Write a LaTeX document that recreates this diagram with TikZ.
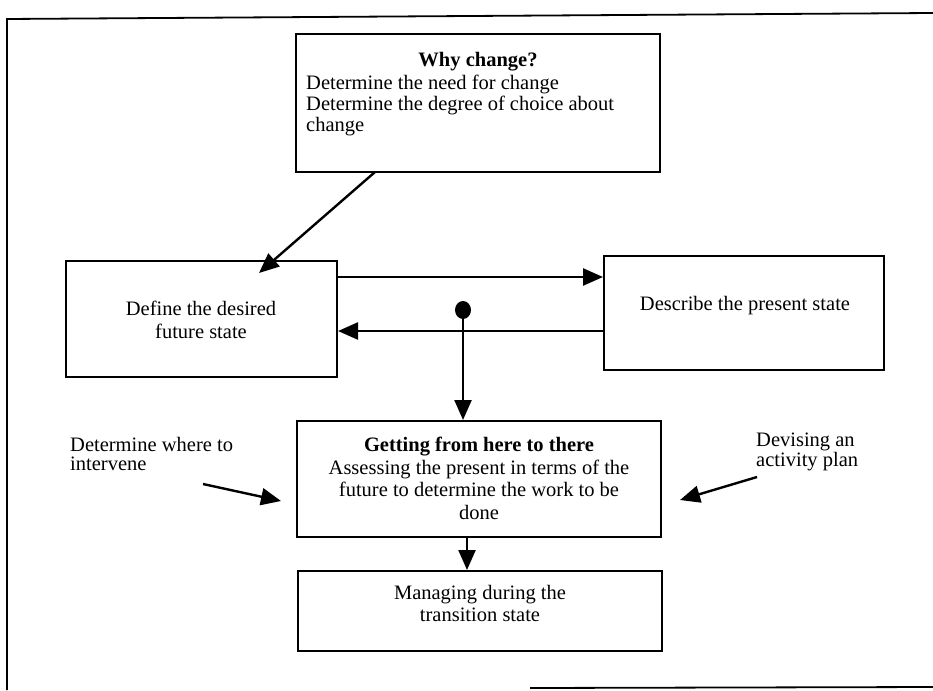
\documentclass[tikz,border=0pt]{standalone}
\usepackage{fontspec}
\setmainfont{Liberation Serif}
\usetikzlibrary{arrows.meta,shapes.geometric}
\begin{document}
\begin{tikzpicture}[x=1pt,y=-1pt,
  box/.style={draw,line width=2pt,inner sep=0pt},
  txt/.style={inner sep=0pt,align=center,font=\fontsize{20.5}{22.5}\selectfont},
  ltxt/.style={inner sep=0pt,align=left,font=\fontsize{20.5}{21}\selectfont},
  side/.style={inner sep=0pt,align=left,font=\fontsize{20.5}{19.5}\selectfont},
  arr/.style={line width=2.4pt,-{Triangle[length=20pt,width=17pt]}},
  frame/.style={line width=1.8pt}]
\useasboundingbox (0,0) rectangle (933,690);
% outer frame (partly visible)
\coordinate (fbl) at (7,690);
\coordinate (ftl) at (7,19);
\coordinate (ftr) at (933,13);
\coordinate (fb1) at (530,688);
\coordinate (fb2) at (933,687);
\draw[frame] (fbl) -- (ftl) -- (ftr);
\draw[frame] (fb1) -- (fb2);
% boxes
\node[box,minimum width=364pt,minimum height=138pt] (why) at (478,103) {};
\node[box,minimum width=271pt,minimum height=116pt] (def) at (201.5,319) {};
\node[box,minimum width=280pt,minimum height=114pt] (des) at (744,313) {};
\node[box,minimum width=364pt,minimum height=116pt] (get) at (479,479) {};
\node[box,minimum width=364pt,minimum height=80pt] (man) at (480,611) {};
% texts (north = first baseline - 14)
\node[inner sep=0pt,font=\fontsize{20.5}{23}\selectfont\bfseries,anchor=base] (whyt) at (478,67) {Why change?};
\node[ltxt,anchor=north west] (whyb) at (306,75) {Determine the need for change\\Determine the degree of choice about\\change};
\node[txt,anchor=north] (deft) at (201,301) {Define the desired\\future state};
\node[inner sep=0pt,font=\fontsize{20.5}{23}\selectfont,anchor=base] (dest) at (745,310) {Describe the present state};
\node[txt,anchor=north] (gett) at (479,437) {\textbf{Getting from here to there}\\Assessing the present in terms of the\\future to determine the work to be\\done};
\node[txt,anchor=north] (mant) at (480,585) {Managing during the\\transition state};
\node[side,anchor=north west] (intv) at (70,437) {Determine where to\\intervene};
\node[side,anchor=north west] (devs) at (756,433) {Devising an\\activity plan};
% dot
\node[ellipse,fill=black,minimum width=16pt,minimum height=18pt,inner sep=0pt] (dot) at (463,310) {};
% arrows
\coordinate (whys) at (375,172);
\coordinate (defe) at (259,273);
\draw[arr] (whys) -- (defe);
\draw[arr] (def.east |- 0,277) -- (des.west |- 0,277);
\draw[arr] (des.west |- 0,331) -- (def.east |- 0,331);
\draw[arr] (dot.center) -- (dot |- get.north);
\draw[arr] (get.south -| 467,0) -- (man.north -| 467,0);
\coordinate (ia) at (203,484);
\coordinate (ib) at (281,501);
\draw[arr] (ia) -- (ib);
\coordinate (da) at (757,477);
\coordinate (db) at (680,500);
\draw[arr] (da) -- (db);
\end{tikzpicture}
\end{document}
